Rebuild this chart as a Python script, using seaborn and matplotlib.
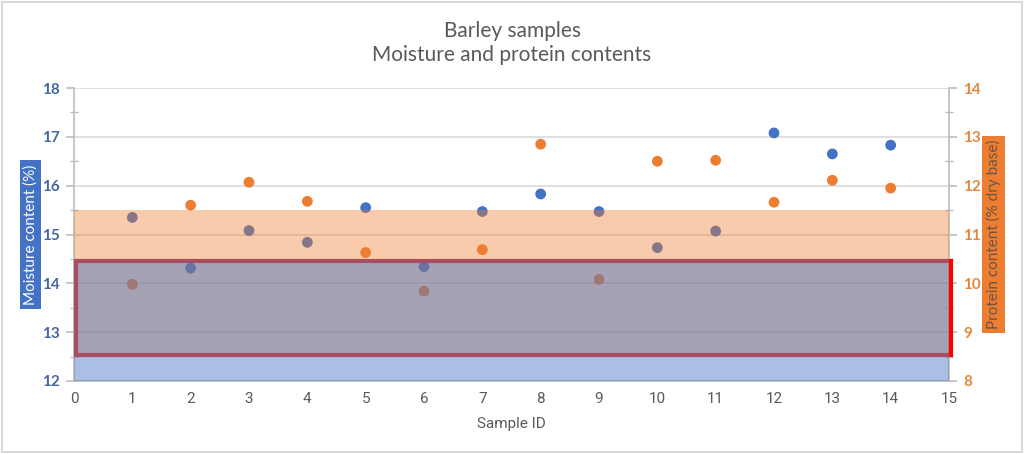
import matplotlib
matplotlib.use("Agg")
import matplotlib.pyplot as plt
import seaborn as sns
import pandas as pd
from matplotlib.patches import Rectangle
import matplotlib.ticker as mticker

# ---- data ----
sample_id = [1, 2, 3, 4, 5, 6, 7, 8, 9, 10, 11, 12, 13, 14]
moisture = [15.35, 14.31, 15.08, 14.84, 15.55, 14.34, 15.47, 15.83, 15.47, 14.73, 15.07, 17.08, 16.65, 16.83]
protein = [9.98, 11.60, 12.07, 11.68, 10.63, 9.84, 10.69, 12.85, 10.08, 12.50, 12.52, 11.66, 12.11, 11.95]
moisture_band = [12.0, 14.5]   # acceptable moisture range (%)
protein_band = [8.5, 11.5]     # acceptable protein range (% dry base)
overlap_band = [12.5, 14.5]    # overlap on moisture axis

title_lines = ["Barley samples", "Moisture and protein contents"]
xlabel = "Sample ID"
ylabel_left = "Moisture content (%)"
ylabel_right = "Protein content (% dry base)"

df = pd.DataFrame({"Sample ID": sample_id, "Moisture": moisture, "Protein": protein})

BLUE = "#4472C4"
ORANGE = "#ED7D31"
GRID = "#D9D9D9"
SPINE = "#BFBFBF"
TXT = "#595959"
LBLUE = "#44679F"
LORANGE = "#E2883E"
NARROW = ["Liberation Sans Narrow", "Roboto", "DejaVu Sans"]

sns.set_theme(style="white")
plt.rcParams["font.family"] = ["Lato", "DejaVu Sans"]

fig = plt.figure(figsize=(10.24, 4.54), dpi=100)
ax = fig.add_axes([74 / 1024, 1 - 381 / 454, (949 - 74) / 1024, (381 - 88) / 454])
ax2 = ax.twinx()

sns.scatterplot(data=df, x="Sample ID", y="Moisture", ax=ax, color=BLUE, s=60,
                edgecolor="none", zorder=3, legend=False)
sns.scatterplot(data=df, x="Sample ID", y="Protein", ax=ax2, color=ORANGE, s=60,
                edgecolor="none", zorder=2, legend=False)

ax.set_xlim(0, 15)
ax.set_ylim(12, 18)
ax2.set_ylim(8, 14)

# red rectangle (under the bands), edges kept just inside the overlap
ax2.add_patch(Rectangle((0.035, overlap_band[0] + 0.04), 15.005,
                        overlap_band[1] - overlap_band[0] - 0.08,
                        transform=ax.transData, fill=False, edgecolor="#FF0000",
                        lw=3.0, zorder=3, clip_on=False, joinstyle="miter"))
# orange band (protein axis)
ax2.axhspan(protein_band[0], protein_band[1], color=ORANGE, alpha=0.40, lw=0, zorder=4)
# blue band (moisture axis)
ax2.add_patch(Rectangle((0, moisture_band[0]), 15, moisture_band[1] - moisture_band[0],
                        transform=ax.transData, facecolor=BLUE, alpha=0.45, lw=0, zorder=5))

# grid
ax.yaxis.set_major_locator(mticker.MultipleLocator(1))
ax.yaxis.set_minor_locator(mticker.MultipleLocator(0.5))
ax2.yaxis.set_major_locator(mticker.MultipleLocator(1))
ax2.yaxis.set_minor_locator(mticker.MultipleLocator(0.5))
ax.xaxis.set_major_locator(mticker.MultipleLocator(1))
ax.grid(axis="y", which="major", color=GRID, lw=1.2, zorder=0)
ax.grid(axis="x", visible=False)
ax.set_axisbelow(True)

for a in (ax, ax2):
    for s in a.spines.values():
        s.set_visible(False)
ax.spines["left"].set_visible(True)
ax.spines["left"].set_color(SPINE)
ax.spines["bottom"].set_visible(True)
ax.spines["bottom"].set_color(SPINE)
ax2.spines["right"].set_visible(True)
ax2.spines["right"].set_color(SPINE)

ax.tick_params(axis="y", which="major", direction="out", length=6, color=SPINE,
               labelcolor=LBLUE, labelsize=11, pad=4)
ax.tick_params(axis="y", which="minor", direction="inout", length=6, color=SPINE, left=True)
ax2.tick_params(axis="y", which="major", direction="out", length=6, color=SPINE,
                labelcolor=LORANGE, labelsize=11, pad=4)
ax2.tick_params(axis="y", which="minor", direction="inout", length=6, color=SPINE, right=True)
ax.tick_params(axis="x", length=0, labelcolor=TXT, labelsize=11, pad=8)

for lbl in ax.get_yticklabels():
    lbl.set_fontweight("bold")
for lbl in ax2.get_yticklabels():
    lbl.set_fontweight("bold")
for lbl in ax.get_xticklabels():
    lbl.set_family(NARROW)

ax.set_xlabel(xlabel, color=TXT, fontsize=11, family=NARROW, labelpad=8)
ax.set_ylabel("")
ax2.set_ylabel("")

fig.text(0.5, 1 - 43 / 454, "\n".join(title_lines), ha="center", va="center",
         fontsize=15, color=TXT, linespacing=1.25)

fig.text(30.5 / 1024, 1 - 234.5 / 454, ylabel_left, rotation=90, ha="center", va="center",
         fontsize=11, color="white",
         bbox=dict(boxstyle="square,pad=0.25", facecolor=BLUE, edgecolor="none"))
fig.text(993.5 / 1024, 1 - 234.5 / 454, ylabel_right, rotation=90, ha="center", va="center",
         fontsize=11, color="#6B5545",
         bbox=dict(boxstyle="square,pad=0.25", facecolor=ORANGE, edgecolor="none"))

# outer chart border
fig.add_artist(Rectangle((0.002, 0.004), 0.996, 0.992, transform=fig.transFigure,
                         fill=False, edgecolor="#D9D9D9", lw=1.5))

fig.savefig("out.png", dpi=100)
